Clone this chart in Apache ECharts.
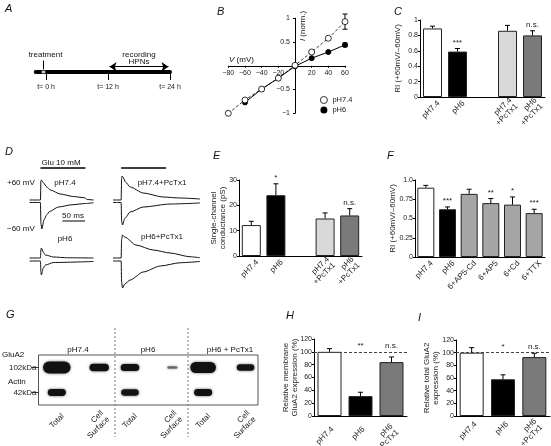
<!DOCTYPE html>
<html><head><meta charset="utf-8">
<script src="https://cdn.jsdelivr.net/npm/echarts@6/dist/echarts.min.js"></script>
<style>html,body{margin:0;padding:0;background:#fff}#c{width:551px;height:446px}</style>
</head><body><div id="c"></div>
<script>
// ================= DATA =================
// A: timeline (hours)
const timelineTicks = [0, 12, 24];
const treatmentTime = -0.5;
const recordingWindow = [12, 24];

// B: I-V relation
const ivVoltage74 = [-80, -60, -40, -20, 0, 20, 40, 60];
const ivCurrent74 = [-1.0, -0.72, -0.49, -0.26, 0.01, 0.29, 0.58, 0.93];
const ivVoltage6 = [-60, -40, -20, 0, 20, 40, 60];
const ivCurrent6 = [-0.77, -0.49, -0.26, -0.01, 0.16, 0.29, 0.44];
const ivErrAt60 = { pH74: 0.16, pH6: 0.04 };

// C: rectification index
const cCats = ['pH7.4', 'pH6', '', 'pH7.4\n+PcTx1', 'pH6\n+PcTx1'];
const cVals = [0.89, 0.59, null, 0.86, 0.80];
const cErrs = [0.03, 0.04, null, 0.07, 0.06];
const cSig = ['', '***', '', '', 'n.s.'];

// D: current traces [time ms, normalised current]
const gluWindow = [0, 100];
const scaleBarMs = [49, 99];
const d74Pos = [[-24,0.04],[0,0.04],[1,0.8],[2,0.84],[7,0.72],[14,0.56],[22,0.44],[44,0.28],[73,0.18],[98,0.13],[104,0.06],[118,0.04]];
const d74Neg = [[-24,-0.06],[0,-0.06],[1,-0.9],[3,-1.12],[8,-0.75],[14,-0.55],[20,-0.42],[40,-0.24],[70,-0.15],[100,-0.1],[118,-0.07]];
const d74PcPos = [[-18,0.04],[0,0.04],[1,0.9],[2,1.0],[4,0.96],[10,0.75],[20,0.56],[49,0.32],[93,0.16],[131,0.12],[175,0.08]];
const d74PcNeg = [[-18,-0.06],[0,-0.06],[1,-0.8],[3,-0.96],[8,-0.7],[20,-0.44],[49,-0.24],[109,-0.12],[175,-0.08]];
const d6Pos = [[-24,0.06],[0,0.06],[1,0.4],[2,0.46],[6,0.3],[11,0.18],[29,0.1],[60,0.07],[118,0.06]];
const d6Neg = [[-24,-0.06],[0,-0.06],[1,-0.5],[2,-0.62],[6,-0.35],[11,-0.22],[29,-0.12],[118,-0.08]];
const d6PcPos = [[-18,0.06],[0,0.06],[1,0.8],[3,0.98],[8,0.9],[33,0.58],[71,0.38],[109,0.26],[153,0.11],[175,0.07]];
const d6PcNeg = [[-18,-0.06],[0,-0.06],[1,-0.9],[3,-1.14],[8,-0.98],[20,-0.82],[49,-0.5],[87,-0.26],[131,-0.13],[175,-0.08]];

// E: single-channel conductance (pS)
const eCats = ['pH7.4', 'pH6', '', 'pH7.4\n+PcTx1', 'pH6\n+PcTx1'];
const eVals = [12.2, 24.0, null, 14.8, 16.0];
const eErrs = [1.5, 4.5, null, 2.2, 2.7];
const eSig = ['', '*', '', '', 'n.s.'];

// F: RI with blockers
const fCats = ['pH7.4', 'pH6', '6+AP5-Cd', '6+AP5', '6+Cd', '6+TTX'];
const fVals = [0.90, 0.62, 0.82, 0.70, 0.68, 0.57];
const fErrs = [0.03, 0.03, 0.06, 0.06, 0.10, 0.05];
const fSig = ['', '***', '', '**', '*', '***'];

// G: western blot band intensities (0-1)
const blotGroups = ['pH7.4', 'pH6', 'pH6 + PcTx1'];
const blotLanes = ['Total', 'Cell\nSurface', 'Total', 'Cell\nSurface', 'Total', 'Cell\nSurface'];
const blotRows = ['102kDa', '42kDa'];
const gluA2Band = [1.0, 0.75, 0.72, 0.25, 0.95, 0.68];
const actinBand = [0.7, 0, 0.68, 0, 0.7, 0];

// H: relative membrane GluA2 (%)
const hCats = ['pH7.4', 'pH6', 'pH6\n+PcTx1'];
const hVals = [100, 31, 84];
const hErrs = [5, 6, 8];
const hSig = ['', '**', 'n.s.'];

// I: relative total GluA2 (%)
const iCats = ['pH7.4', 'pH6', 'pH6\n+PcTx1'];
const iVals = [100, 58, 93];
const iErrs = [8, 7, 6];
const iSig = ['', '*', 'n.s.'];

// ================= STYLE =================
const FONT = '"Liberation Sans", Arial, Helvetica, sans-serif';
const INK = '#111';
const TXT = '#222';
const cColors = ['#ffffff', '#000000', '#ffffff', '#d9d9d9', '#7a7a7a'];
const fColors = ['#ffffff', '#000000', '#a6a6a6', '#a6a6a6', '#a6a6a6', '#a6a6a6'];
const hiColors = ['#ffffff', '#000000', '#7a7a7a'];

const grids = [
  {left: 35.7, top: 50, width: 134.3, height: 22},     // 0 A
  {left: 228.3, top: 18.3, width: 116.7, height: 95},  // 1 B
  {left: 420, top: 20, width: 125, height: 77},        // 2 C
  {left: 29.2, top: 166, width: 92.25, height: 65},    // 3 D tl
  {left: 109.9, top: 166, width: 92.25, height: 65},   // 4 D tr
  {left: 29.2, top: 229.5, width: 92.25, height: 60},  // 5 D bl
  {left: 109.9, top: 229.5, width: 92.25, height: 60}, // 6 D br
  {left: 239, top: 180, width: 123, height: 76},       // 7 E
  {left: 415, top: 180, width: 130, height: 77},       // 8 F
  {left: 38.5, top: 355, width: 219.5, height: 50, show: true, borderColor: '#555', borderWidth: 1, backgroundColor: '#fff'}, // 9 G
  {left: 314, top: 339, width: 93, height: 77},        // 10 H
  {left: 456, top: 340, width: 94, height: 76}         // 11 I
];

const lbl = {fontSize: 8, fontFamily: FONT, color: TXT};
const tickLbl = {fontSize: 7, fontFamily: FONT, color: TXT};

function valAxis(g, min, max, interval, name, gap, fmt) {
  return {type: 'value', gridIndex: g, min, max, interval, name: name, nameLocation: 'middle', nameGap: gap, nameRotate: 90,
    nameMoveOverlap: false,
    nameTextStyle: {fontSize: 8, fontFamily: FONT, color: TXT, lineHeight: 9},
    axisLine: {show: true, lineStyle: {color: '#000', width: 1}},
    axisTick: {show: true, length: 2, lineStyle: {color: '#000'}},
    axisLabel: Object.assign({margin: 2, formatter: fmt}, tickLbl), splitLine: {show: false}};
}
function catAxis(g, cats) {
  return {type: 'category', gridIndex: g, data: cats,
    axisLine: {show: true, lineStyle: {color: '#000', width: 1}}, axisTick: {show: false}, axisLabel: {show: false}};
}
function hiddenAxis(g, min, max) {
  return {type: 'value', gridIndex: g, min, max, show: false, splitLine: {show: false}};
}
function barSeries(g, vals, colors, w, extra) {
  return Object.assign({type: 'bar', xAxisIndex: g, yAxisIndex: g, data: vals, barWidth: w,
    itemStyle: {color: p => colors[p.dataIndex], borderColor: '#222', borderWidth: 1}}, extra || {});
}
function errSeries(g, vals, errs, sigs, floor) {
  const pts = [];
  vals.forEach((v, i) => { if (v != null) pts.push({value: [i, v, errs[i]], sig: sigs[i]}); });
  return {type: 'custom', xAxisIndex: g, yAxisIndex: g, z: 5, data: pts.map(p => p.value),
    renderItem: (params, api) => {
      const p = pts[params.dataIndex];
      const x = api.value(0), v = api.value(1), e = api.value(2);
      const b = api.coord([x, v]), t = api.coord([x, v + e]);
      const ch = [
        {type: 'line', shape: {x1: b[0], y1: b[1], x2: t[0], y2: t[1]}, style: {stroke: '#000', lineWidth: 1}},
        {type: 'line', shape: {x1: t[0] - 2.5, y1: t[1], x2: t[0] + 2.5, y2: t[1]}, style: {stroke: '#000', lineWidth: 1}}
      ];
      if (p.sig) {
        const ly = api.coord([x, Math.max(v + e, floor || -Infinity)])[1] - 2;
        ch.push({type: 'text', x: t[0], y: ly, style: {text: p.sig, fill: TXT, font: '8px ' + FONT, align: 'center', verticalAlign: 'bottom', textAlign: 'center', textVerticalAlign: 'bottom'}});
      }
      return {type: 'group', children: ch};
    }};
}
// rotated (45°) category labels, anchored at each category position under the axis
function catLabels(g, cats, dx, dy, posFn) {
  posFn = posFn || (i => i);
  return {type: 'custom', xAxisIndex: g, yAxisIndex: g, z: 6, silent: true, clip: false,
    data: cats.map((c, i) => [posFn(i), 0]),
    renderItem: (params, api) => {
      const text = cats[params.dataIndex];
      if (!text) return null;
      const x = api.coord([api.value(0), 0])[0];
      const cs = params.coordSys;
      return {type: 'text', x: x + dx, y: cs.y + cs.height + dy, rotation: Math.PI / 4,
        style: {text, fill: TXT, font: '8px ' + FONT, lineHeight: 8.5, align: 'right', verticalAlign: 'middle', textAlign: 'right', textVerticalAlign: 'middle'}};
    }};
}
function trace(g, data) {
  return {type: 'line', xAxisIndex: g, yAxisIndex: g, data, showSymbol: false, symbol: 'none', smooth: 0.25, smoothMonotone: 'x',
    lineStyle: {color: INK, width: 1}, silent: true};
}
function flatLine(g, xs, y, w) {
  return {type: 'line', xAxisIndex: g, yAxisIndex: g, data: xs.map(x => [x, y]), symbol: 'none',
    lineStyle: {color: '#000', width: w}, silent: true};
}
const dashedRef = {silent: true, symbol: 'none', label: {show: false}, lineStyle: {type: [3, 2], color: '#444', width: 1}, data: [{yAxis: 100}]};

// ---- axes ----
const minus = s => String(s).replace('-', '\u2212');
const lanePos = i => Math.floor(i / 2) + (i % 2 ? 0.83 : 0.25);
const xAxes = [
  {type: 'value', gridIndex: 0, min: -2, max: 24,
    axisLine: {show: true, onZero: false, lineStyle: {color: '#000', width: 4}},
    axisTick: {show: true, customValues: timelineTicks, length: 8, lineStyle: {color: '#000', width: 1}},
    axisLabel: Object.assign({customValues: timelineTicks, margin: 12, formatter: 't= {value} h'}, tickLbl),
    splitLine: {show: false}},
  {type: 'value', gridIndex: 1, min: -80, max: 60, interval: 20, position: 'bottom', offset: -47.5,
    axisLine: {onZero: false, lineStyle: {color: '#000'}}, axisTick: {length: 2, lineStyle: {color: '#000'}},
    axisLabel: Object.assign({margin: 4, formatter: v => v === 0 ? '' : minus(v)}, tickLbl), splitLine: {show: false}},
  catAxis(2, cCats),
  hiddenAxis(3, -25, 180), hiddenAxis(4, -25, 180), hiddenAxis(5, -25, 180), hiddenAxis(6, -25, 180),
  catAxis(7, eCats),
  catAxis(8, fCats),
  {type: 'value', gridIndex: 9, min: 0, max: 3, axisLine: {show: false}, axisTick: {show: false}, axisLabel: {show: false}, splitLine: {show: false}},
  catAxis(10, hCats),
  catAxis(11, iCats)
];
const yAxes = [
  hiddenAxis(0, 0, 1),
  {type: 'value', gridIndex: 1, min: -1, max: 1, interval: 0.5, position: 'left', offset: -66.7,
    axisLine: {onZero: false, lineStyle: {color: '#000'}}, axisTick: {length: 2, lineStyle: {color: '#000'}},
    axisLabel: Object.assign({margin: 5, formatter: v => v === 0 ? '' : minus(v)}, tickLbl), splitLine: {show: false}},
  valAxis(2, 0, 1, 0.2, 'RI (+60mV/\u201360mV)', 18, v => String(v)),
  hiddenAxis(3, -1.2, 1.4), hiddenAxis(4, -1.2, 1.4), hiddenAxis(5, -1.2, 1.2), hiddenAxis(6, -1.2, 1.2),
  valAxis(7, 0, 30, 10, 'Single-channel\nconductance (pS)', 12, v => String(v)),
  valAxis(8, 0, 1, 0.25, 'RI (+60mV/\u201360mV)', 18, v => v === 1 ? '1.0' : String(v)),
  {type: 'category', gridIndex: 9, data: blotRows, inverse: true,
    axisLine: {show: false}, axisTick: {show: true, alignWithLabel: true, length: 7, lineStyle: {color: '#333'}},
    axisLabel: Object.assign({margin: 2}, lbl), splitLine: {show: false}},
  valAxis(10, 0, 120, 20, 'Relative membrane\nGluA2 expression (%)', 15, v => String(v)),
  valAxis(11, 0, 120, 20, 'Relative total GluA2\nexpression (%)', 16, v => String(v))
];

// ---- series ----
const series = [];
// A
series.push({type: 'line', xAxisIndex: 0, yAxisIndex: 0, data: [], symbol: 'none',
  markLine: {silent: true, symbol: ['none', 'arrow'], symbolSize: [0, 7], label: {show: false},
    lineStyle: {color: '#000', width: 1, type: 'solid'},
    data: [[{coord: [treatmentTime, 0.52]}, {coord: [treatmentTime, 0.12]}]]}});
series.push({type: 'line', xAxisIndex: 0, yAxisIndex: 0, data: [], symbol: 'none',
  markLine: {silent: true, symbol: ['arrow', 'arrow'], symbolSize: 7, label: {show: false},
    lineStyle: {color: '#000', width: 1, type: 'solid'},
    data: [[{coord: [recordingWindow[0] + 0.3, 0.24]}, {coord: [recordingWindow[1] - 0.3, 0.24]}]]}});
series.push({type: 'scatter', xAxisIndex: 0, yAxisIndex: 0, data: [[treatmentTime, 0]], symbol: 'rect', symbolSize: [4, 3],
  itemStyle: {color: '#fff', borderColor: '#000', borderWidth: 0.5}, silent: true});

// B
series.push({name: 'pH6', type: 'line', xAxisIndex: 1, yAxisIndex: 1, data: ivVoltage6.map((v, i) => [v, ivCurrent6[i]]),
  symbol: 'circle', symbolSize: 5, itemStyle: {color: '#000', borderColor: '#000'}, lineStyle: {color: '#000', width: 1}, z: 3});
series.push({name: 'pH7.4', type: 'line', xAxisIndex: 1, yAxisIndex: 1, data: ivVoltage74.map((v, i) => [v, ivCurrent74[i]]),
  symbol: 'circle', symbolSize: 6, itemStyle: {color: '#fff', borderColor: '#000', borderWidth: 0.8},
  lineStyle: {color: '#000', width: 0.8, type: [3, 2]}, z: 4});
series.push({type: 'custom', xAxisIndex: 1, yAxisIndex: 1, z: 2,
  data: [[60, ivCurrent74[7], ivErrAt60.pH74], [60, ivCurrent6[6], ivErrAt60.pH6]],
  renderItem: (params, api) => {
    const x = api.value(0), v = api.value(1), e = api.value(2);
    const a = api.coord([x, v + e]), b = api.coord([x, v - e]);
    return {type: 'group', children: [
      {type: 'line', shape: {x1: a[0], y1: a[1], x2: b[0], y2: b[1]}, style: {stroke: '#000', lineWidth: 1}},
      {type: 'line', shape: {x1: a[0] - 2.5, y1: a[1], x2: a[0] + 2.5, y2: a[1]}, style: {stroke: '#000', lineWidth: 1}},
      {type: 'line', shape: {x1: b[0] - 2.5, y1: b[1], x2: b[0] + 2.5, y2: b[1]}, style: {stroke: '#000', lineWidth: 1}}]};
  }});

// C
series.push(barSeries(2, cVals, cColors, 19));
series.push(errSeries(2, cVals, cErrs, cSig));
series.push(catLabels(2, cCats, 6, 5));

// D
series.push(trace(3, d74Pos), trace(3, d74Neg), trace(4, d74PcPos), trace(4, d74PcNeg),
  trace(5, d6Pos), trace(5, d6Neg), trace(6, d6PcPos), trace(6, d6PcNeg));
series.push(flatLine(3, gluWindow, 1.32, 1.5), flatLine(4, gluWindow, 1.32, 1.5), flatLine(3, scaleBarMs, -0.8, 1));

// E
series.push(barSeries(7, eVals, cColors, 19));
series.push(errSeries(7, eVals, eErrs, eSig));
series.push(catLabels(7, eCats, 6, 5));

// F
series.push(barSeries(8, fVals, fColors, 17));
series.push(errSeries(8, fVals, fErrs, fSig));
series.push(catLabels(8, fCats, 6, 5));

// G: blot bands
const bandData = [];
gluA2Band.forEach((v, i) => { if (v > 0) bandData.push([lanePos(i), 0, v]); });
actinBand.forEach((v, i) => { if (v > 0) bandData.push([lanePos(i), 1, v]); });
series.push({type: 'custom', xAxisIndex: 9, yAxisIndex: 9, data: bandData, silent: true,
  renderItem: (params, api) => {
    const x = api.value(0), r = api.value(1), k = api.value(2);
    const c = api.coord([x, r]);
    const w = 36.5 * (0.25 + 0.5 * k * k), h = 2 + 10 * k * k;
    const op = Math.min(1, 0.3 + k);
    return {type: 'rect', shape: {x: c[0] - w / 2, y: c[1] - h / 2, width: w, height: h, r: h / 2},
      style: {fill: '#111', opacity: op, shadowBlur: 3, shadowColor: 'rgba(0,0,0,0.6)'}};
  }});
series.push(catLabels(9, blotLanes, 6, 10, lanePos));

// H, I
series.push(barSeries(10, hVals, hiColors, 24, {markLine: dashedRef}));
series.push(errSeries(10, hVals, hErrs, hSig, 100));
series.push(catLabels(10, hCats, 3, 12));
series.push(barSeries(11, iVals, hiColors, 24, {markLine: dashedRef}));
series.push(errSeries(11, iVals, iErrs, iSig, 100));
series.push(catLabels(11, iCats, 4, 7));

// ---- graphic texts ----
function t(text, x, y, opt) {
  opt = opt || {};
  return {type: 'text', x, y, rotation: opt.rot || 0, silent: true,
    style: Object.assign({text, fill: '#111', font: (opt.font || '8px ') + FONT,
      align: opt.align || 'center', verticalAlign: opt.va || 'middle',
      textAlign: opt.align || 'center', textVerticalAlign: opt.va || 'middle', lineHeight: opt.lh || 9}, opt.style || {})};
}
const letters = [['A', 5, 9], ['B', 217, 12], ['C', 394, 12], ['D', 5, 152], ['E', 213, 156], ['F', 387, 156], ['G', 6, 315], ['H', 286, 316], ['I', 418, 318]]
  .map(a => t(a[0], a[1], a[2], {font: 'italic 11px ', align: 'left'}));
const graphic = letters.concat([
  t('treatment', 45.5, 55),
  t('recording\nHPNs', 139, 58.5, {lh: 7.5}),
  {type: 'text', x: 229, y: 59.5, silent: true, style: {text: '{i|V} (mV)', rich: {i: {fontStyle: 'italic', fontSize: 8, fontFamily: FONT}}, fill: '#111', font: '8px ' + FONT, align: 'left', verticalAlign: 'middle', textAlign: 'left', textVerticalAlign: 'middle'}},
  {type: 'text', x: 303, y: 26, rotation: Math.PI / 2, silent: true, style: {text: '{i|I} (norm.)', rich: {i: {fontStyle: 'italic', fontSize: 8, fontFamily: FONT}}, fill: '#111', font: '8px ' + FONT, align: 'center', verticalAlign: 'middle', textAlign: 'center', textVerticalAlign: 'middle'}},
  t('Glu 10 mM', 61, 163),
  t('+60 mV', 7, 183, {align: 'left'}),
  t('\u221260 mV', 7, 229, {align: 'left'}),
  t('pH7.4', 65, 183),
  t('pH7.4+PcTx1', 162, 183),
  t('50 ms', 73, 216),
  t('pH6', 65, 239),
  t('pH6+PcTx1', 162, 237),
  t('pH7.4', 78, 350), t('pH6', 148, 350), t('pH6 + PcTx1', 230, 350),
  t('GluA2', 2, 355, {align: 'left'}),
  t('Actin', 8, 382, {align: 'left'}),
  {type: 'line', silent: true, shape: {x1: 115, y1: 328, x2: 115, y2: 437}, style: {stroke: '#777', lineWidth: 1, lineDash: [2, 2]}},
  {type: 'line', silent: true, shape: {x1: 188, y1: 328, x2: 188, y2: 437}, style: {stroke: '#777', lineWidth: 1, lineDash: [2, 2]}}
]);

const chart = echarts.init(document.getElementById('c'), null, {renderer: 'canvas', width: 551, height: 446});
chart.setOption({
  animation: false,
  backgroundColor: '#fff',
  textStyle: {fontFamily: FONT},
  grid: grids,
  xAxis: xAxes,
  yAxis: yAxes,
  legend: {show: true, orient: 'vertical', left: 315, top: 91, itemWidth: 7, itemHeight: 7, itemGap: 2,
    textStyle: {fontSize: 7.5, fontFamily: FONT, color: TXT}, selectedMode: false,
    data: [
      {name: 'pH7.4', icon: 'circle', itemStyle: {color: '#fff', borderColor: '#000', borderWidth: 0.8}},
      {name: 'pH6', icon: 'circle', itemStyle: {color: '#000', borderColor: '#000'}}
    ]},
  series,
  graphic
});
</script></body></html>
